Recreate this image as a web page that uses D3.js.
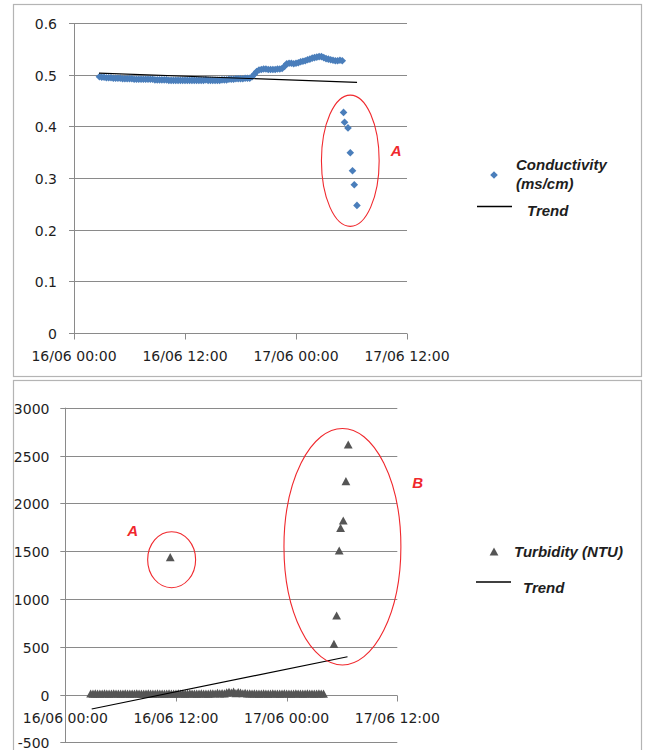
<!DOCTYPE html>
<html><head><meta charset="utf-8">
<script src="https://cdn.jsdelivr.net/npm/d3@7"></script>
<style>
html,body{margin:0;padding:0;background:#fff;}
svg{display:block;}
</style></head>
<body>
<script>
// ---------- DATA ----------
const tickHours = [0, 12, 24, 36];
const tickLabels = ["16/06 00:00", "16/06 12:00", "17/06 00:00", "17/06 12:00"];
const condTicks = [0, 0.1, 0.2, 0.3, 0.4, 0.5, 0.6];
const turbTicks = [-500, 0, 500, 1000, 1500, 2000, 2500, 3000];

// regular samples every 15 min starting 16/06 02:45 (hours since 16/06 00:00)
const sampleStart = 2.75;
const sampleStep = 0.25;
const conductivity = [
  .496,.495,.495,.494,.494,.494,.493,.493,.493,.493,.492,.492,.492,.492,
  .492,.491,.491,.491,.491,.491,.491,.491,.491,.491,.490,.490,.490,.490,.490,.490,
  .489,.489,.489,.489,.489,.489,.489,.489,.489,.489,.489,.489,.489,.489,.489,.489,
  .490,.489,.489,.489,.489,.489,.489,.490,.490,.490,.491,.491,.491,.492,.492,.492,
  .492,.493,.493,.493,
  .496,.501,.506,.509,.510,.511,.511,.510,.510,.510,.510,.511,.511,.512,.516,.521,
  .522,.522,.521,.522,.523,.525,.526,.527,.529,.530,.532,.533,.534,.535,.535,.533,
  .531,.530,.529,.528,.527,.527,.528,.527
];
const condOutlierHours = [29.14, 29.25, 29.62, 29.87, 30.11, 30.30, 30.59];
const condOutlierValues = [0.427, 0.408, 0.397, 0.349, 0.314, 0.287, 0.247];
const condTrendHours = [2.7, 30.6];
const condTrendValues = [0.5028, 0.4852];

const turbidity = [
  5,4,6,5,4,5,6,5,4,5,6,5,5,4,5,6,5,4,5,5,6,5,4,5,5,6,
  5,4,5,6,5,5,4,5,6,5,4,5,6,5,5,4,5,6,5,5,4,5,6,5,5,4,
  6,8,5,12,6,10,7,18,22,15,25,9,20,14,8,12,6,7,5,6,5,4,
  5,6,5,4,5,6,5,5,4,5,6,5,5,4,5,6,5,5,4,5,6,5,5,4,5,6,
  5,4
];
const turbOutlierHours = [11.38, 29.13, 29.42, 29.70, 29.85, 30.14, 30.43, 30.68];
const turbOutlierValues = [1431, 525, 821, 1501, 1738, 1815, 2226, 2610];
const turbTrendHours = [2.86, 30.6];
const turbTrendValues = [-152, 395];

// annotations (data units): centre hour, centre value, radius in hours, radius in value
const condEllipses = [{h: 29.87, v: 0.3334, rh: 3.12, rv: 0.127}];
const condNotes = [{text: "A", h: 34.84, v: 0.354}];
const turbEllipses = [{h: 11.53, v: 1410, rh: 2.6, rv: 293}, {h: 30.05, v: 1546, rh: 6.34, rv: 1237}];
const turbNotes = [{text: "A", h: 7.3, v: 1710}, {text: "B", h: 38.2, v: 2212}];

// ---------- DRAW ----------
const W = 648, H = 750;
const svg = d3.select("body").append("svg").attr("width", W).attr("height", H);
const GRID = "#8a8a8a", TXT = "#1e1e1e", RED = "#f0282d";
const AXFONT = "'DejaVu Sans', sans-serif";
const LGFONT = "'Liberation Sans', Arial, sans-serif";

// panel frames
svg.append("rect").attr("x", 13.5).attr("y", 4.5).attr("width", 628).attr("height", 372)
  .attr("fill", "#fff").attr("stroke", "#b4b4b4").attr("stroke-width", 1.2);
svg.append("rect").attr("x", 13.5).attr("y", 380.5).attr("width", 628).attr("height", 380)
  .attr("fill", "#fff").attr("stroke", "#b4b4b4").attr("stroke-width", 1.2);

const diamond = "M0,-3.8L3.8,0L0,3.8L-3.8,0Z";
const triangle = "M0,-4.6L4.4,3.6L-4.4,3.6Z";

function panel(cfg) {
  const g = svg.append("g");
  const x = d3.scaleLinear().domain([0, 36]).range(cfg.xr);
  const y = d3.scaleLinear().domain(cfg.yd).range(cfg.yr);
  const x0 = x(0), x1 = x(36);
  // gridlines + y ticks
  cfg.yt.forEach(t => {
    const yy = Math.round(y(t)) + 0.5;
    g.append("line").attr("x1", x0 - 5).attr("x2", x1).attr("y1", yy).attr("y2", yy)
      .attr("stroke", GRID).attr("stroke-width", 1);
    g.append("text").attr("x", cfg.ylabX).attr("y", yy).attr("dy", "0.36em")
      .attr("text-anchor", "end").attr("font-family", AXFONT).attr("font-size", 14)
      .attr("fill", TXT).text(cfg.yfmt(t));
  });
  // y axis line
  const ax = Math.round(x0) + 0.5;
  g.append("line").attr("x1", ax).attr("x2", ax).attr("y1", y(cfg.yd[1])).attr("y2", y(cfg.yd[0]))
    .attr("stroke", GRID);
  // x axis at value 0
  const ay = Math.round(y(0)) + 0.5;
  tickHours.forEach((t, i) => {
    const xx = Math.round(x(t)) + 0.5;
    g.append("line").attr("x1", xx).attr("x2", xx).attr("y1", ay).attr("y2", ay + 6).attr("stroke", GRID);
    g.append("text").attr("x", x(t)).attr("y", cfg.xlabY).attr("dy", "0.36em")
      .attr("text-anchor", "middle").attr("font-family", AXFONT).attr("font-size", 14)
      .attr("fill", TXT).text(tickLabels[i]);
  });
  // data points
  const pts = cfg.values.map((v, i) => ({h: sampleStart + i * sampleStep, v}))
    .concat(cfg.oh.map((h, i) => ({h, v: cfg.ov[i]})));
  g.append("g").selectAll("path").data(pts).join("path")
    .attr("d", cfg.marker).attr("fill", cfg.color)
    .attr("transform", d => `translate(${x(d.h)},${y(d.v)})`);
  // trend
  g.append("line").attr("x1", x(cfg.th[0])).attr("y1", y(cfg.tv[0]))
    .attr("x2", x(cfg.th[1])).attr("y2", y(cfg.tv[1]))
    .attr("stroke", "#000").attr("stroke-width", 1.2);
  // ellipses + notes
  cfg.ell.forEach(e => {
    g.append("ellipse").attr("cx", x(e.h)).attr("cy", y(e.v))
      .attr("rx", Math.abs(x(e.h + e.rh) - x(e.h))).attr("ry", Math.abs(y(e.v + e.rv) - y(e.v)))
      .attr("fill", "none").attr("stroke", RED).attr("stroke-width", 1.1);
  });
  cfg.notes.forEach(n => {
    g.append("text").attr("x", x(n.h)).attr("y", y(n.v)).attr("dy", "0.36em")
      .attr("text-anchor", "middle").attr("font-family", LGFONT).attr("font-size", 15)
      .attr("font-weight", "bold").attr("font-style", "italic").attr("fill", RED).text(n.text);
  });
  // legend
  const L = cfg.legend;
  g.append("path").attr("d", cfg.marker).attr("fill", cfg.color)
    .attr("transform", `translate(${L.mx},${L.my})`);
  const t = g.append("text").attr("font-family", LGFONT).attr("font-size", 15)
    .attr("font-weight", "bold").attr("font-style", "italic").attr("fill", TXT);
  L.lines.forEach((s, i) => {
    t.append("tspan").attr("x", L.tx).attr("y", L.ty + i * 19).attr("dy", "0.36em").text(s);
  });
  g.append("line").attr("x1", L.lx0).attr("x2", L.lx1).attr("y1", L.ly).attr("y2", L.ly)
    .attr("stroke", "#000").attr("stroke-width", 1.5);
  g.append("text").attr("x", L.trx).attr("y", L.try_).attr("dy", "0.36em")
    .attr("font-family", LGFONT).attr("font-size", 15).attr("font-weight", "bold")
    .attr("font-style", "italic").attr("fill", TXT).text("Trend");
}

panel({
  xr: [74, 407], yd: [0, 0.6], yr: [333, 23], yt: condTicks,
  yfmt: d => d === 0 ? "0" : d3.format(".1f")(d), ylabX: 57, xlabY: 356,
  values: conductivity, oh: condOutlierHours, ov: condOutlierValues,
  th: condTrendHours, tv: condTrendValues, marker: diamond, color: "#4a7ebb",
  ell: condEllipses, notes: condNotes,
  legend: {mx: 494, my: 175, tx: 516, ty: 165, lines: ["Conductivity", "(ms/cm)"],
    lx0: 477, lx1: 512, ly: 206.5, trx: 527, try_: 211}
});

panel({
  xr: [65.3, 397.3], yd: [-500, 3000], yr: [742.3, 407.7], yt: turbTicks,
  yfmt: d => String(d), ylabX: 49.5, xlabY: 717.5,
  values: turbidity, oh: turbOutlierHours, ov: turbOutlierValues,
  th: turbTrendHours, tv: turbTrendValues, marker: triangle, color: "#555555",
  ell: turbEllipses, notes: turbNotes,
  legend: {mx: 494, my: 552, tx: 514, ty: 552, lines: ["Turbidity (NTU)"],
    lx0: 476, lx1: 511, ly: 582, trx: 523, try_: 588}
});
</script>
</body></html>
